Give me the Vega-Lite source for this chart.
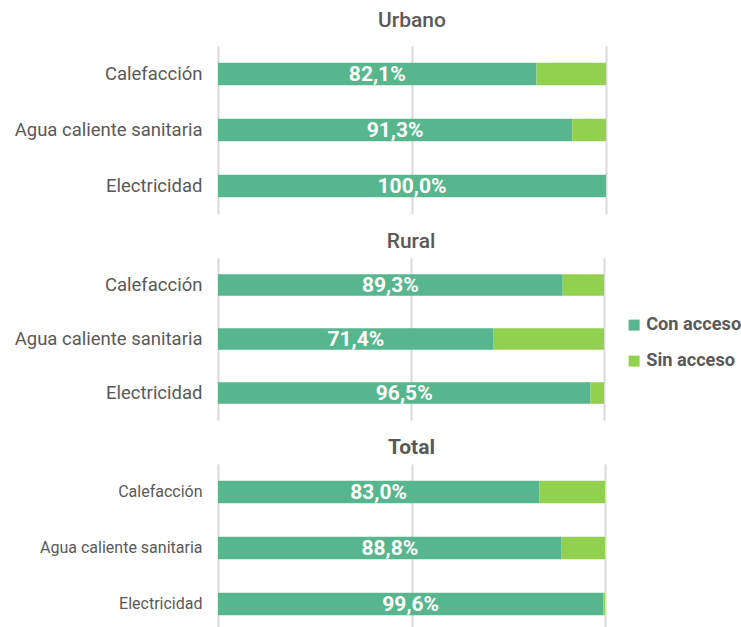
{
  "$schema": "https://vega.github.io/schema/vega-lite/v6.json",
  "padding": {"top": 10, "left": 14, "right": 0, "bottom": 0},
  "background": "white",
  "config": {
    "font": "Roboto",
    "locale": {"number": {"decimal": ",", "thousands": ".", "grouping": [3], "currency": ["", " €"]}},
    "view": {"stroke": null},
    "concat": {"spacing": 17},
    "title": {"fontSize": 21, "fontWeight": 500, "color": "#595959", "offset": 6, "anchor": "middle"},
    "axisY": {"domain": false, "ticks": false, "title": null, "labelColor": "#595959", "labelPadding": 16, "labelLimit": 400, "grid": false},
    "axisX": {"domain": false, "ticks": false, "labels": false, "title": null, "grid": true, "gridColor": "#D9D9D9", "gridWidth": 2},
    "legend": {"labelFont": "Roboto", "labelFontSize": 18.2, "labelFontWeight": "bold", "labelColor": "#595959", "symbolType": "square", "symbolSize": 121, "symbolStrokeWidth": 0, "rowPadding": 17, "labelOffset": 3}
  },
  "data": {"values": [
    {"zona": "Urbano", "servicio": "Calefacción", "estado": "Con acceso", "valor": 0.821},
    {"zona": "Urbano", "servicio": "Calefacción", "estado": "Sin acceso", "valor": 0.179},
    {"zona": "Urbano", "servicio": "Agua caliente sanitaria", "estado": "Con acceso", "valor": 0.913},
    {"zona": "Urbano", "servicio": "Agua caliente sanitaria", "estado": "Sin acceso", "valor": 0.087},
    {"zona": "Urbano", "servicio": "Electricidad", "estado": "Con acceso", "valor": 1.0},
    {"zona": "Urbano", "servicio": "Electricidad", "estado": "Sin acceso", "valor": 0.0},
    {"zona": "Rural", "servicio": "Calefacción", "estado": "Con acceso", "valor": 0.893},
    {"zona": "Rural", "servicio": "Calefacción", "estado": "Sin acceso", "valor": 0.107},
    {"zona": "Rural", "servicio": "Agua caliente sanitaria", "estado": "Con acceso", "valor": 0.714},
    {"zona": "Rural", "servicio": "Agua caliente sanitaria", "estado": "Sin acceso", "valor": 0.286},
    {"zona": "Rural", "servicio": "Electricidad", "estado": "Con acceso", "valor": 0.965},
    {"zona": "Rural", "servicio": "Electricidad", "estado": "Sin acceso", "valor": 0.035},
    {"zona": "Total", "servicio": "Calefacción", "estado": "Con acceso", "valor": 0.83},
    {"zona": "Total", "servicio": "Calefacción", "estado": "Sin acceso", "valor": 0.17},
    {"zona": "Total", "servicio": "Agua caliente sanitaria", "estado": "Con acceso", "valor": 0.888},
    {"zona": "Total", "servicio": "Agua caliente sanitaria", "estado": "Sin acceso", "valor": 0.112},
    {"zona": "Total", "servicio": "Electricidad", "estado": "Con acceso", "valor": 0.996},
    {"zona": "Total", "servicio": "Electricidad", "estado": "Sin acceso", "valor": 0.004}
  ]},
  "vconcat": [
    {
      "title": {"text": "Urbano", "offset": 15},
      "width": 388, "height": 168,
      "transform": [{"filter": "datum.zona === 'Urbano'"}],
      "encoding": {
        "y": {"field": "servicio", "type": "nominal", "sort": ["Calefacción", "Agua caliente sanitaria", "Electricidad"], "scale": {"paddingInner": 0.6, "paddingOuter": 0.3}, "axis": {"labelFontSize": 18.5}}
      },
      "layer": [
        {"mark": {"type": "bar"}, "encoding": {
          "x": {"field": "valor", "type": "quantitative", "stack": true, "scale": {"domain": [0, 1]}, "axis": {"values": [0, 0.5, 1]}},
          "color": {"field": "estado", "type": "nominal", "scale": {"domain": ["Con acceso", "Sin acceso"], "range": ["#57B68E", "#92D050"]}, "legend": {"title": null, "orient": "none", "legendX": 407, "legendY": 270}}
        }},
        {"transform": [
          {"stack": "valor", "groupby": ["servicio"], "sort": [{"field": "estado"}], "as": ["x0", "x1"]},
          {"filter": "datum.estado === 'Con acceso'"},
          {"calculate": "(datum.x0 + datum.x1) / 2", "as": "centro"}
        ], "mark": {"type": "text", "color": "white", "fontSize": 21, "fontWeight": "bold", "dy": 1}, "encoding": {
          "x": {"field": "centro", "type": "quantitative"},
          "text": {"field": "valor", "type": "quantitative", "format": ".1%"}
        }}
      ]
    },
    {
      "title": {"text": "Rural"},
      "width": 386, "height": 162,
      "transform": [{"filter": "datum.zona === 'Rural'"}],
      "encoding": {
        "y": {"field": "servicio", "type": "nominal", "sort": ["Calefacción", "Agua caliente sanitaria", "Electricidad"], "scale": {"paddingInner": 0.6, "paddingOuter": 0.3}, "axis": {"labelFontSize": 18.5}}
      },
      "layer": [
        {"mark": {"type": "bar"}, "encoding": {
          "x": {"field": "valor", "type": "quantitative", "stack": true, "scale": {"domain": [0, 1]}, "axis": {"values": [0, 0.5, 1]}},
          "color": {"field": "estado", "type": "nominal", "scale": {"domain": ["Con acceso", "Sin acceso"], "range": ["#57B68E", "#92D050"]}}
        }},
        {"transform": [
          {"stack": "valor", "groupby": ["servicio"], "sort": [{"field": "estado"}], "as": ["x0", "x1"]},
          {"filter": "datum.estado === 'Con acceso'"},
          {"calculate": "(datum.x0 + datum.x1) / 2", "as": "centro"}
        ], "mark": {"type": "text", "color": "white", "fontSize": 21, "fontWeight": "bold", "dy": 1}, "encoding": {
          "x": {"field": "centro", "type": "quantitative"},
          "text": {"field": "valor", "type": "quantitative", "format": ".1%"}
        }}
      ]
    },
    {
      "title": {"text": "Total", "fontWeight": "bold"},
      "width": 387, "height": 168,
      "transform": [{"filter": "datum.zona === 'Total'"}],
      "encoding": {
        "y": {"field": "servicio", "type": "nominal", "sort": ["Calefacción", "Agua caliente sanitaria", "Electricidad"], "scale": {"paddingInner": 0.6, "paddingOuter": 0.3}, "axis": {"labelFontSize": 16}}
      },
      "layer": [
        {"mark": {"type": "bar"}, "encoding": {
          "x": {"field": "valor", "type": "quantitative", "stack": true, "scale": {"domain": [0, 1]}, "axis": {"values": [0, 0.5, 1]}},
          "color": {"field": "estado", "type": "nominal", "scale": {"domain": ["Con acceso", "Sin acceso"], "range": ["#57B68E", "#92D050"]}}
        }},
        {"transform": [
          {"stack": "valor", "groupby": ["servicio"], "sort": [{"field": "estado"}], "as": ["x0", "x1"]},
          {"filter": "datum.estado === 'Con acceso'"},
          {"calculate": "(datum.x0 + datum.x1) / 2", "as": "centro"}
        ], "mark": {"type": "text", "color": "white", "fontSize": 21, "fontWeight": "bold", "dy": 1}, "encoding": {
          "x": {"field": "centro", "type": "quantitative"},
          "text": {"field": "valor", "type": "quantitative", "format": ".1%"}
        }}
      ]
    }
  ]
}
